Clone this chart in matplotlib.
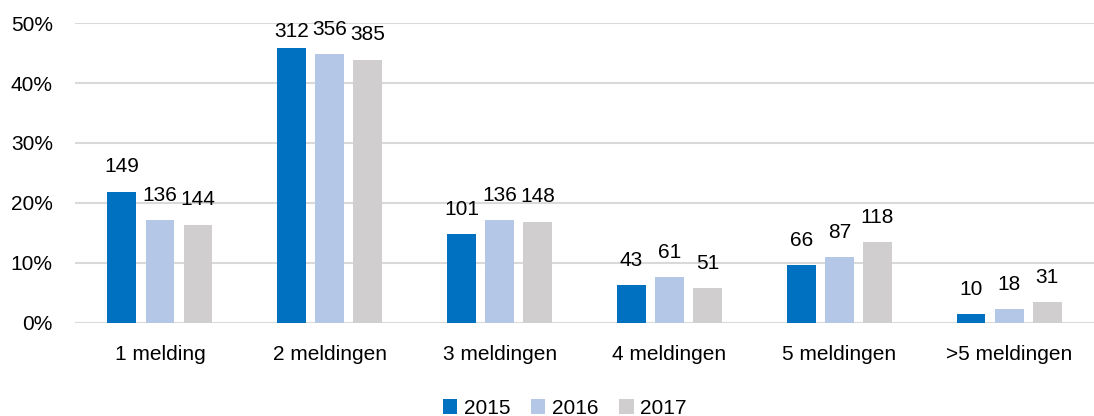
import numpy as np
import matplotlib
matplotlib.use("Agg")
from matplotlib import pyplot as plt
from matplotlib.ticker import PercentFormatter

plt.rcParams['font.family'] = ['Liberation Sans', 'DejaVu Sans']

categories = ['1 melding', '2 meldingen', '3 meldingen', '4 meldingen', '5 meldingen', '>5 meldingen']
years = ['2015', '2016', '2017']
# share of reports per year (percent) and the counts shown above the bars
pct_2015 = [21.9, 45.8, 14.8, 6.3, 9.7, 1.5]
pct_2016 = [17.1, 44.8, 17.1, 7.7, 11.0, 2.3]
pct_2017 = [16.4, 43.9, 16.9, 5.8, 13.5, 3.5]
n_2015 = [149, 312, 101, 43, 66, 10]
n_2016 = [136, 356, 136, 61, 87, 18]
n_2017 = [144, 385, 148, 51, 118, 31]
colors = ['#0070C0', '#B4C7E7', '#D0CECE']

fig = plt.figure(figsize=(10.94, 4.16), dpi=100)
ax = fig.add_axes([0.0686, 0.2236, 0.9314, 0.7211])

x = np.arange(len(categories))
width = 0.17
step = 0.224
series = [(pct_2015, n_2015), (pct_2016, n_2016), (pct_2017, n_2017)]
for i, (pct, counts) in enumerate(series):
    bars = ax.bar(x + (i - 1) * step, pct, width, color=colors[i], label=years[i], zorder=3)
    for b, c in zip(bars, counts):
        h = b.get_height()
        off = 5 if h > 45 else 11  # labels near the top get pushed down
        ax.annotate(str(c), (b.get_x() + b.get_width() / 2, h),
                    xytext=(0, off), textcoords='offset points',
                    ha='center', va='bottom', fontsize=15, color='#000000')

ax.set_xlim(-0.5, len(categories) - 0.5)
ax.set_ylim(0, 50)
ax.set_yticks([0, 10, 20, 30, 40, 50])
ax.yaxis.set_major_formatter(PercentFormatter(decimals=0))
ax.set_xticks(x)
ax.set_xticklabels(categories)
ax.tick_params(axis='both', length=0, labelsize=15, colors='#000000')
ax.tick_params(axis='x', pad=16)
ax.tick_params(axis='y', pad=16)
ax.grid(axis='y', color='#D9D9D9', linewidth=1.5, zorder=0)
for s in ax.spines.values():
    s.set_visible(False)

fig.legend(loc='lower center', bbox_to_anchor=(0.516, -0.05), ncol=3, frameon=False,
           fontsize=15, handlelength=0.7, handleheight=0.7, handletextpad=0.3, columnspacing=1.0)

plt.savefig('out.png', dpi=100)
